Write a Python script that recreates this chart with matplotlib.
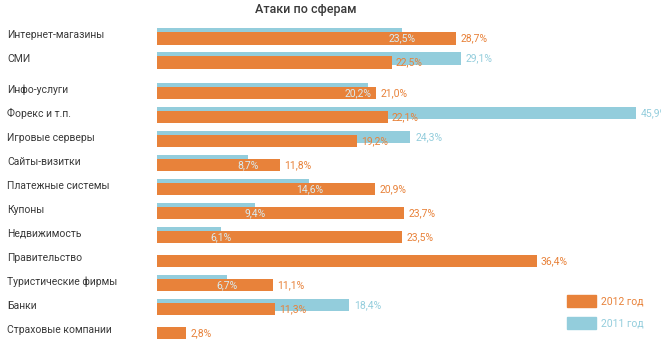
import numpy as np
import matplotlib.pyplot as plt
from matplotlib.patches import Rectangle

plt.rcParams['font.family'] = ['Roboto', 'DejaVu Sans']

categories = ['Интернет-магазины', 'СМИ', 'Инфо-услуги', 'Форекс и т.п.',
              'Игровые серверы', 'Сайты-визитки', 'Платежные системы', 'Купоны',
              'Недвижимость', 'Правительство', 'Туристические фирмы', 'Банки',
              'Страховые компании']
val_2012 = [28.7, 22.5, 21.0, 22.1, 19.2, 11.8, 20.9, 23.7, 23.5, 36.4, 11.1, 11.3, 2.8]
val_2011 = [23.5, 29.1, 20.2, 45.9, 24.3, 8.7, 14.6, 9.4, 6.1, None, 6.7, 18.4, None]

ORANGE = '#E8823A'
BLUE = '#93CDDC'
TXT = '#3a3a3a'

def fmt(v):
    return f'{v:.1f}%'.replace('.', ',')

fig = plt.figure(figsize=(6.61, 3.5), dpi=100)
ax = fig.add_axes([157 / 661, 0, 1 - 157 / 661, 1])

# rows: a little extra space after the second one
pos = np.arange(len(categories)) + np.where(np.arange(len(categories)) >= 2, 0.27, 0.0)
h = 0.52
shift = 0.18

for i, (y, v12, v11) in enumerate(zip(pos, val_2012, val_2011)):
    if v11 is not None:
        ax.barh(y - shift, v11, height=h, color=BLUE, zorder=1)
    ax.barh(y, v12, height=h, color=ORANGE, zorder=2)
    ax.text(v12 + 0.4, y, fmt(v12), color=ORANGE, fontsize=7.5,
            va='center', ha='left', zorder=4)
    if v11 is not None:
        if v11 > v12:
            ax.text(v11 + 0.5, y - shift, fmt(v11), color=BLUE, fontsize=7.5,
                    va='center', ha='left', zorder=4)
        else:
            # keep the inner label inside the orange bar
            xc = min(v11, v12 - 1.7)
            ax.text(xc, y, fmt(v11), color='#D8ECF2', fontsize=7.5,
                    va='center', ha='center', zorder=4)
    fig.text(7 / 661, 1 - (38.7 + (y - 0.15) * 24) / 350, categories[i],
             color=TXT, fontsize=7.5, va='center', ha='left')

ax.set_xlim(0, 504 / 10.43)
ax.set_ylim((350 - 38.7) / 24, -38.7 / 24)
ax.axis('off')

fig.text(306 / 661, 1 - 10 / 350, 'Атаки по сферам', color=TXT, fontsize=9,
         ha='center', va='center', fontweight='medium')

# legend
for (label, col, ytop) in [('2012 год', ORANGE, 295), ('2011 год', BLUE, 317)]:
    fig.patches.append(Rectangle((567 / 661, 1 - (ytop + 12) / 350), 29 / 661, 12 / 350,
                                 color=col, transform=fig.transFigure, figure=fig))
    fig.text(601 / 661, 1 - (ytop + 6) / 350, label, color=col, fontsize=7.5,
             ha='left', va='center')

fig.savefig('out.png', dpi=100)
